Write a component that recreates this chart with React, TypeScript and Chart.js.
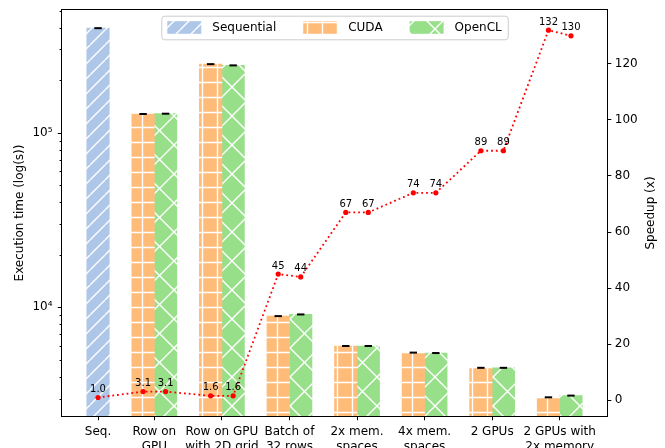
import React, { useEffect, useRef } from 'react';
import { Chart, registerables } from 'chart.js';

Chart.register(...registerables);

// ---------- data ----------
const categories: string[][] = [
  ['Seq.'],
  ['Row on', 'GPU'],
  ['Row on GPU', 'with 2D grid'],
  ['Batch of', '32 rows'],
  ['2x mem.', 'spaces'],
  ['4x mem.', 'spaces'],
  ['2 GPUs'],
  ['2 GPUs with', '2x memory'],
];
const seriesLabels = ['Sequential', 'CUDA', 'OpenCL'];
const sequentialTime = [397000];
const cudaTime = [128000, 247000, 8900, 6000, 5500, 4500, 3050];
const openclTime = [128500, 243000, 9100, 6000, 5470, 4500, 3120];
const speedupSequential = [1.0];
const speedupCuda = [3.1, 1.6, 45, 67, 74, 89, 132];
const speedupOpenCL = [3.1, 1.6, 44, 67, 74, 89, 130];
const speedupTicks = [0, 20, 40, 60, 80, 100, 120];
const timeRange = [2384, 504500];
const speedupRange = [-5.6, 139.2];

// ---------- layout / style ----------
const W = 665;
const H = 448;
const FONT = "'DejaVu Sans', sans-serif";
const BAR = 1 / 3; // bar width in category units
const HALF = BAR / 2;
const AREA = { left: 62, right: 607, top: 10, bottom: 416 };

const COLORS = { seq: '#aec7e8', cuda: '#ffbb78', opencl: '#98df8a' };

function makeHatch(ctx: CanvasRenderingContext2D, bg: string, kind: string, size: number) {
  const c = document.createElement('canvas');
  c.width = size;
  c.height = size;
  const g = c.getContext('2d')!;
  g.fillStyle = bg;
  g.fillRect(0, 0, size, size);
  g.strokeStyle = '#ffffff';
  g.lineWidth = 1.4;
  g.beginPath();
  if (kind === 'plus') {
    g.moveTo(size / 2, 0);
    g.lineTo(size / 2, size);
    g.moveTo(0, size / 2);
    g.lineTo(size, size / 2);
  } else {
    for (const o of [-size, 0, size]) {
      g.moveTo(o, size);
      g.lineTo(o + size, 0);
    }
    if (kind === 'cross') {
      for (const o of [-size, 0, size]) {
        g.moveTo(o, 0);
        g.lineTo(o + size, size);
      }
    }
  }
  g.stroke();
  return ctx.createPattern(c, 'repeat')!;
}

const fmtSpeed = (v: number) => (v < 10 ? v.toFixed(1) : v.toFixed(0));
const SUP: Record<string, string> = { '0': '⁰', '1': '¹', '2': '²', '3': '³', '4': '⁴', '5': '⁵', '6': '⁶', '7': '⁷', '8': '⁸', '9': '⁹' };

function logTickValues(min: number, max: number) {
  const out: number[] = [];
  for (let e = Math.floor(Math.log10(min)); e <= Math.ceil(Math.log10(max)); e++) {
    for (let m = 1; m <= 9; m++) {
      const v = m * Math.pow(10, e);
      if (v >= min && v <= max) out.push(v);
    }
  }
  return out;
}
const isPow10 = (v: number) => Math.abs(Math.log10(v) - Math.round(Math.log10(v))) < 1e-9;

const noPad = (s: any) => {
  s.paddingTop = 0;
  s.paddingBottom = 0;
  s.paddingLeft = 0;
  s.paddingRight = 0;
};

export default function App() {
  const ref = useRef<HTMLCanvasElement>(null);

  useEffect(() => {
    const canvas = ref.current!;
    const ctx = canvas.getContext('2d')!;

    const seqPattern = makeHatch(ctx, COLORS.seq, 'diag', 15);
    const cudaPattern = makeHatch(ctx, COLORS.cuda, 'plus', 15);
    const openclPattern = makeHatch(ctx, COLORS.opencl, 'cross', 29);

    const seqPts = sequentialTime.map((v, i) => ({ x: i + HALF, y: v }));
    const cudaPts = cudaTime.map((v, i) => ({ x: i + 1 - HALF, y: v }));
    const openclPts = openclTime.map((v, i) => ({ x: i + 1 + HALF, y: v }));

    const speedPts: { x: number; y: number }[] = [];
    speedupSequential.forEach((v, i) => speedPts.push({ x: i + HALF, y: v }));
    speedupCuda.forEach((v, i) => {
      speedPts.push({ x: i + 1 - HALF, y: v });
      speedPts.push({ x: i + 1 + HALF, y: speedupOpenCL[i] });
    });

    const tickPositions = categories.map((_, i) => (i === 0 ? HALF : i));
    const dataMax = categories.length - 1 + BAR;
    const margin = 0.05 * dataMax;

    const framePlugin = {
      id: 'frameAndTicks',
      afterDraw(chart: any) {
        const c = chart.ctx as CanvasRenderingContext2D;
        const a = chart.chartArea;
        const y = chart.scales.y;
        c.save();
        c.strokeStyle = '#000';
        c.lineWidth = 1;
        y.ticks.forEach((t: any) => {
          const py = Math.round(y.getPixelForValue(t.value)) + 0.5;
          const len = isPow10(t.value) ? 4.3 : 2.4;
          c.beginPath();
          c.moveTo(a.left - len, py);
          c.lineTo(a.left, py);
          c.stroke();
        });
        c.strokeRect(Math.round(a.left) - 0.5, Math.round(a.top) - 0.5, Math.round(a.right - a.left) + 1, Math.round(a.bottom - a.top) + 1);
        // right axis title
        c.fillStyle = '#000';
        c.font = `12px ${FONT}`;
        c.textAlign = 'center';
        c.textBaseline = 'middle';
        c.translate(651, (a.top + a.bottom) / 2);
        c.rotate(-Math.PI / 2);
        c.fillText('Speedup (x)', 0, 0);
        c.restore();
      },
    };

    const labelPlugin = {
      id: 'speedLabels',
      afterDatasetsDraw(chart: any) {
        const c = chart.ctx as CanvasRenderingContext2D;
        const idx = chart.data.datasets.findIndex((d: any) => d.id === 'speedup');
        const meta = chart.getDatasetMeta(idx);
        c.save();
        c.fillStyle = '#000';
        c.font = `10px ${FONT}`;
        c.textAlign = 'center';
        c.textBaseline = 'alphabetic';
        meta.data.forEach((el: any, i: number) => {
          const v = chart.data.datasets[idx].data[i].y;
          c.fillText(fmtSpeed(v), el.x, el.y - 5.5);
        });
        c.restore();
      },
    };

    const legendPlugin = {
      id: 'hatchLegend',
      afterDraw(chart: any) {
        const c = chart.ctx as CanvasRenderingContext2D;
        const a = chart.chartArea;
        const items = chart.data.datasets.filter((d: any) => d.inLegend);
        c.save();
        c.font = `12px ${FONT}`;
        const pad = 6, sw = 34, sh = 12.6, gap = 11, colGap = 27;
        const widths = items.map((d: any) => c.measureText(d.label).width);
        let total = pad * 2 + items.length * (sw + gap) + (items.length - 1) * colGap;
        widths.forEach((w: number) => (total += w));
        const left = (a.left + a.right) / 2 - total / 2;
        const top = a.top + 5.7;
        const h = 23.6;
        c.beginPath();
        c.roundRect(left + 0.5, top + 0.5, total, h, 3);
        c.fillStyle = 'rgba(255,255,255,0.8)';
        c.fill();
        c.strokeStyle = '#cccccc';
        c.lineWidth = 1;
        c.stroke();
        let x = left + pad;
        items.forEach((d: any, i: number) => {
          c.fillStyle = d.backgroundColor;
          c.fillRect(x, top + (h - sh) / 2, sw, sh);
          x += sw + gap;
          c.fillStyle = '#000';
          c.textAlign = 'left';
          c.textBaseline = 'middle';
          c.fillText(d.label, x, top + h / 2 + 0.5);
          x += widths[i] + colGap;
        });
        c.restore();
      },
    };

    Chart.defaults.font.family = FONT;
    Chart.defaults.font.size = 12;
    Chart.defaults.color = '#000';

    const chart = new Chart(ctx, {
      type: 'bar',
      data: {
        datasets: [
          {
            id: 'speedup',
            type: 'line',
            data: speedPts,
            yAxisID: 'y1',
            borderColor: '#ff0000',
            borderWidth: 1.8,
            borderDash: [1.8, 3],
            borderCapStyle: 'butt',
            pointRadius: 2.6,
            pointBackgroundColor: '#ff0000',
            pointBorderWidth: 0,
            tension: 0,
            order: 0,
          } as any,
          {
            id: 'caps',
            type: 'line',
            data: [...seqPts, ...cudaPts, ...openclPts],
            yAxisID: 'y',
            showLine: false,
            pointStyle: 'line',
            pointRadius: 3.7,
            pointBorderWidth: 2,
            pointBorderColor: '#000',
            order: 1,
          } as any,
          {
            label: seriesLabels[0],
            inLegend: true,
            data: seqPts,
            yAxisID: 'y',
            backgroundColor: seqPattern,
            grouped: false,
            barThickness: 22.5,
            order: 2,
          } as any,
          {
            label: seriesLabels[1],
            inLegend: true,
            data: cudaPts,
            yAxisID: 'y',
            backgroundColor: cudaPattern,
            grouped: false,
            barThickness: 22.5,
            order: 2,
          } as any,
          {
            label: seriesLabels[2],
            inLegend: true,
            data: openclPts,
            yAxisID: 'y',
            backgroundColor: openclPattern,
            grouped: false,
            barThickness: 22.5,
            order: 2,
          } as any,
        ],
      },
      options: {
        animation: false,
        responsive: false,
        devicePixelRatio: 1,
        layout: { padding: { top: AREA.top, left: 0, right: 0, bottom: 0 } },
        plugins: { legend: { display: false }, tooltip: { enabled: false } },
        scales: {
          x: {
            type: 'linear',
            offset: false,
            min: -margin,
            max: dataMax + margin,
            afterBuildTicks: (s: any) => {
              s.ticks = tickPositions.map((v) => ({ value: v }));
            },
            afterFit: (s: any) => {
              s.height = H - AREA.bottom;
              noPad(s);
            },
            ticks: {
              autoSkip: false,
              maxRotation: 0,
              padding: 4.5,
              callback: (_v: any, i: number) => categories[i],
            },
            grid: { offset: false, drawOnChartArea: false, tickLength: 4.3, tickColor: '#000' },
            border: { display: false },
          },
          y: {
            type: 'logarithmic',
            position: 'left',
            min: timeRange[0],
            max: timeRange[1],
            afterBuildTicks: (s: any) => {
              s.ticks = logTickValues(timeRange[0], timeRange[1]).map((v) => ({ value: v }));
            },
            afterFit: (s: any) => {
              s.width = AREA.left;
              noPad(s);
            },
            ticks: {
              padding: 9.5,
              autoSkip: false,
              callback: (v: any) => {
                if (!isPow10(v)) return '';
                const e = String(Math.round(Math.log10(v)));
                return '10' + e.split('').map((ch) => SUP[ch]).join('');
              },
            },
            grid: { drawOnChartArea: false, drawTicks: false },
            border: { display: false },
            title: { display: true, text: 'Execution time (log(s))', padding: { top: 13, bottom: 0 }, font: { size: 12 } },
          },
          y1: {
            type: 'linear',
            position: 'right',
            min: speedupRange[0],
            max: speedupRange[1],
            afterBuildTicks: (s: any) => {
              s.ticks = speedupTicks.map((v) => ({ value: v }));
            },
            afterFit: (s: any) => {
              s.width = W - AREA.right;
              noPad(s);
            },
            ticks: { padding: 3.5 },
            grid: { drawOnChartArea: false, tickLength: 4.3, tickColor: '#000' },
            border: { display: false },
          },
        },
      } as any,
      plugins: [labelPlugin, framePlugin, legendPlugin],
    });

    return () => chart.destroy();
  }, []);

  return (
    <div style={{ position: 'fixed', left: 0, top: 0, width: W, height: H, background: '#fff' }}>
      <canvas ref={ref} width={W} height={H} style={{ display: 'block', width: W, height: H }} />
    </div>
  );
}
